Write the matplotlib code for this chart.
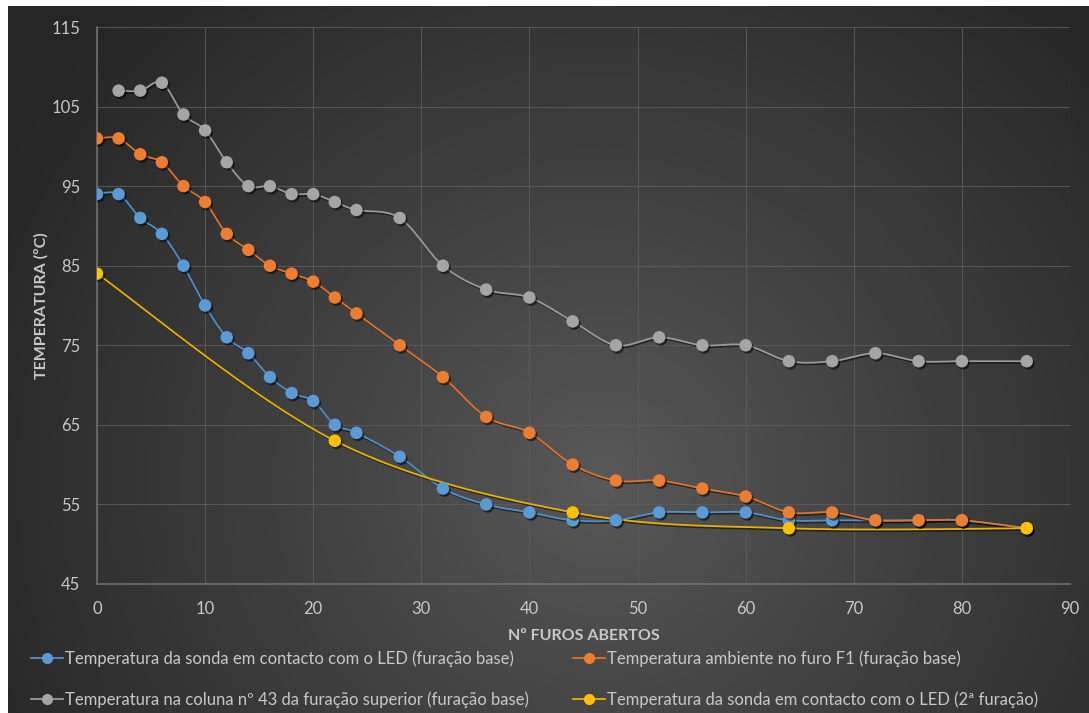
import numpy as np
import matplotlib
matplotlib.use("Agg")
import matplotlib.pyplot as plt
import matplotlib.patheffects as pe
from matplotlib.lines import Line2D

plt.rcParams['font.family'] = ['Lato', 'DejaVu Sans']

# furos abertos (eixo x) e temperaturas medidas
furos = [0, 2, 4, 6, 8, 10, 12, 14, 16, 18, 20, 22, 24, 28, 32, 36, 40,
         44, 48, 52, 56, 60, 64, 68, 72, 76, 80, 86]
t_sonda_base = [94, 94, 91, 89, 85, 80, 76, 74, 71, 69, 68, 65, 64, 61, 57, 55, 54,
                53, 53, 54, 54, 54, 53, 53, 53, 53, 53, 52]
t_ambiente_f1 = [101, 101, 99, 98, 95, 93, 89, 87, 85, 84, 83, 81, 79, 75, 71, 66, 64,
                 60, 58, 58, 57, 56, 54, 54, 53, 53, 53, 52]
furos_coluna = furos[1:]
t_coluna_43 = [107, 107, 108, 104, 102, 98, 95, 95, 94, 94, 93, 92, 91, 85, 82, 81,
               78, 75, 76, 75, 75, 73, 73, 74, 73, 73, 73]
furos_2a = [0, 22, 44, 64, 86]
t_sonda_2a = [84, 63, 54, 52, 52]

labels = [
    "Temperatura da sonda em contacto com o LED (furação base)",
    "Temperatura ambiente no furo F1 (furação base)",
    "Temperatura na coluna nº 43 da furação superior (furação base)",
    "Temperatura da sonda em contacto com o LED (2ª furação)",
]
cores = ["#5b9bd5", "#ed7d31", "#a5a5a5", "#ffc000"]
cores_linha = ["#4f8fc9", "#e0722a", "#9a9a9a", "#e8b000"]

XMIN, XMAX, YMIN, YMAX = 0, 90, 45, 115
W, H = 1089, 713


def suavizar(x, y, sx, sy, n=30):
    # curva de Bezier ao estilo das linhas suavizadas do Excel
    p = np.column_stack([np.asarray(x, float) * sx, np.asarray(y, float) * sy])
    pts = [p[0]]
    for i in range(len(p) - 1):
        p0 = p[i - 1] if i > 0 else p[i]
        p1, p2 = p[i], p[i + 1]
        p3 = p[i + 2] if i + 2 < len(p) else p[i + 1]
        c1 = p1 + (p2 - p0) / 6
        c2 = p2 - (p3 - p1) / 6
        t = np.linspace(0, 1, n)[1:, None]
        seg = ((1 - t) ** 3) * p1 + 3 * ((1 - t) ** 2) * t * c1 + 3 * (1 - t) * t ** 2 * c2 + t ** 3 * p2
        pts.extend(seg)
    pts = np.array(pts)
    return pts[:, 0] / sx, pts[:, 1] / sy


fig = plt.figure(figsize=(W / 100, H / 100), dpi=100, facecolor="white")

# fundo escuro com gradiente radial
bg = fig.add_axes([8 / W, 0, 1 - 8 / W, 1 - 6 / H])
gx, gy = np.meshgrid(np.linspace(0, 1, 400), np.linspace(0, 1, 300))
d = np.sqrt(((gx - 0.55) * 1.5) ** 2 + (gy - 0.33) ** 2)
v = np.clip(d / 0.95, 0, 1)
lum = 0.35 - (0.35 - 0.15) * v ** 0.9
img = np.dstack([lum, lum, lum])
bg.imshow(img, origin="lower", aspect="auto", extent=[0, 1, 0, 1])
bg.set_axis_off()

ax = fig.add_axes([97 / W, 1 - 584 / H, (1070 - 97) / W, (584 - 27) / H])
ax.set_facecolor("none")
ax.set_xlim(XMIN, XMAX)
ax.set_ylim(YMIN, YMAX)
ax.set_xticks(range(0, 91, 10))
ax.set_yticks(range(45, 116, 10))
ax.grid(True, color="#5e5e5e", linewidth=0.8, alpha=0.8)
ax.set_axisbelow(True)
for lado in ["top", "right"]:
    ax.spines[lado].set_visible(False)
for lado in ["left", "bottom"]:
    ax.spines[lado].set_color("#6e6e6e")
    ax.spines[lado].set_linewidth(1.2)
ax.tick_params(length=0, colors="#c8c8c8", labelsize=12)
ax.tick_params(axis="x", pad=12)
ax.tick_params(axis="y", pad=12)
ax.set_xlabel("Nº FUROS ABERTOS", color="#c8c8c8", fontsize=11.5, fontweight="bold", labelpad=9)
ax.set_ylabel("TEMPERATURA (ºC)", color="#c8c8c8", fontsize=11.5, fontweight="bold")
ax.yaxis.set_label_coords(-48 / 973, 0.5)

sx = (1070 - 97) / (XMAX - XMIN)
sy = (584 - 27) / (YMAX - YMIN)
sombra_linha = [pe.SimpleLineShadow(offset=(1, -1.2), alpha=0.5, shadow_color="black"), pe.Normal()]
sombra_ponto = [pe.SimplePatchShadow(offset=(1.2, -1.5), alpha=0.55, shadow_rgbFace="black"), pe.Normal()]

series = [
    (furos, t_sonda_base),
    (furos, t_ambiente_f1),
    (furos_coluna, t_coluna_43),
    (furos_2a, t_sonda_2a),
]
handles = []
for (xs, ys), cor, cl, lab in zip(series, cores, cores_linha, labels):
    lx, ly = suavizar(xs, ys, sx, sy)
    ax.plot(lx, ly, color=cl, linewidth=1.3, zorder=3, path_effects=sombra_linha)
    ax.plot(xs, ys, linestyle="none", marker="o", markersize=9, color=cor,
            markeredgewidth=0, zorder=4, path_effects=sombra_ponto)
    handles.append(Line2D([], [], color=cl, linewidth=1.3, marker="o", markersize=8,
                          markerfacecolor=cor, markeredgewidth=0, label=lab))

ordem = [0, 2, 1, 3]
leg = fig.legend([handles[i] for i in ordem], [labels[i] for i in ordem],
                 loc="lower left", bbox_to_anchor=(16 / W, -10 / H), ncol=2, frameon=False,
                 fontsize=12, handlelength=1.9, handletextpad=0.15, columnspacing=2.65,
                 labelspacing=1.45, numpoints=1)
for t in leg.get_texts():
    t.set_color("#c8c8c8")

fig.savefig("out.png", dpi=100, facecolor=fig.get_facecolor())
